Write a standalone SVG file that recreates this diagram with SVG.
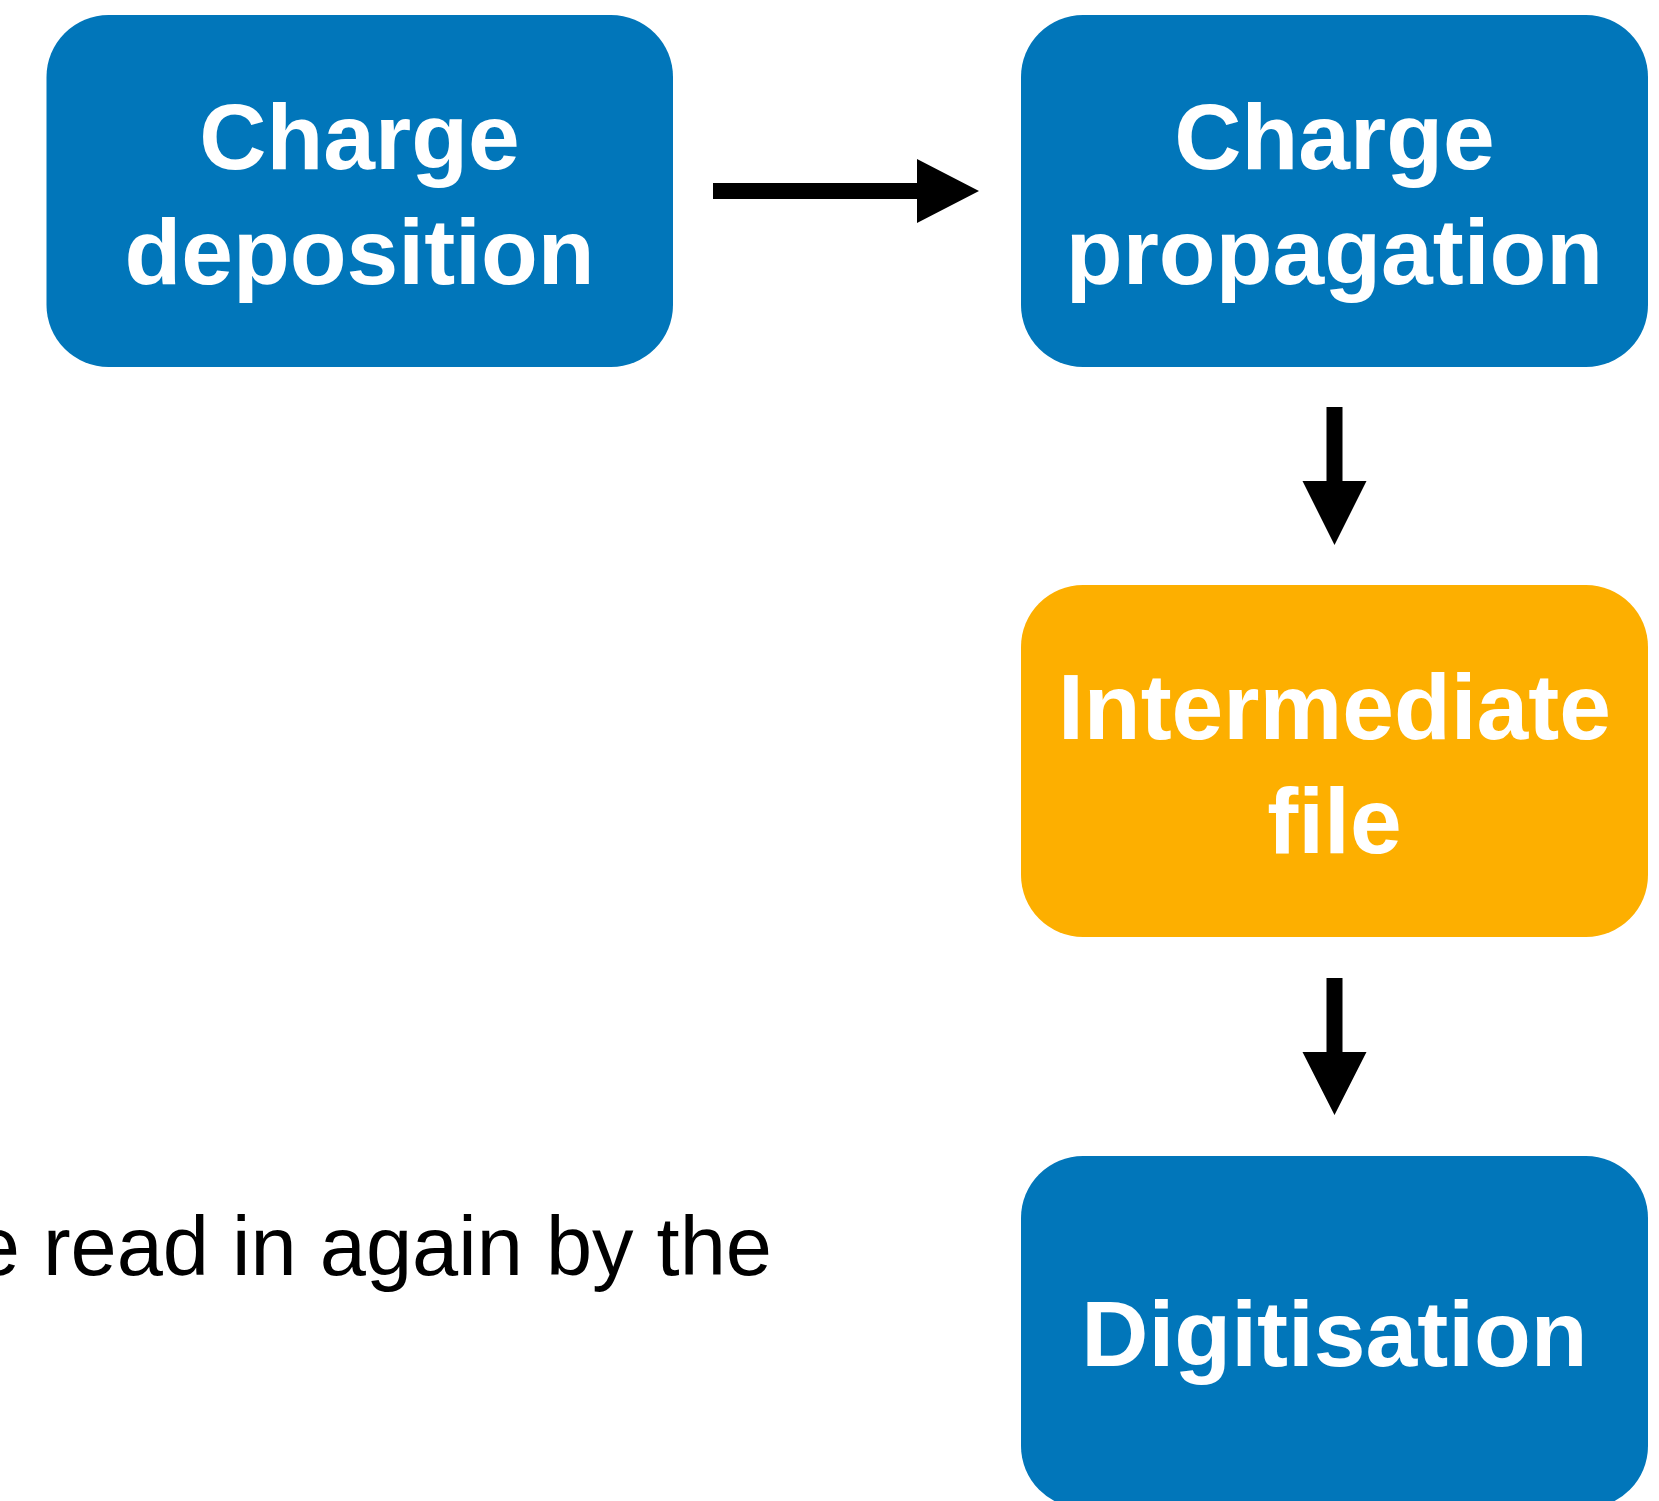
<svg xmlns="http://www.w3.org/2000/svg" width="1659" height="1501" viewBox="0 0 1659 1501">
<style>
.box{fill:#0176BA}
.file{fill:#FDAF00}
.lbl{font-family:"Liberation Sans",Arial,sans-serif;font-weight:bold;font-size:93px;fill:#fff;text-anchor:middle}
.conn{fill:#000}
.note{font-family:"Liberation Sans",Arial,sans-serif;font-size:83px;fill:#000;text-anchor:end}
</style>
<rect width="1659" height="1501" fill="#fff"/>
<g id="node-charge-deposition">
<rect class="box" x="46.5" y="15" width="626.5" height="352" rx="62"/>
<text class="lbl" x="359.5" y="169">Charge</text>
<text class="lbl" x="359.5" y="283.5">deposition</text>
</g>
<g id="node-charge-propagation">
<rect class="box" x="1021" y="15" width="627" height="352" rx="62"/>
<text class="lbl" x="1334.5" y="169">Charge</text>
<text class="lbl" x="1334.5" y="283.5">propagation</text>
</g>
<g id="node-intermediate-file">
<rect class="file" x="1021" y="585" width="627" height="352" rx="62"/>
<text class="lbl" x="1334.5" y="738.5">Intermediate</text>
<text class="lbl" x="1334.5" y="853">file</text>
</g>
<g id="node-digitisation">
<rect class="box" x="1021" y="1156" width="627" height="352" rx="62"/>
<text class="lbl" x="1334.5" y="1366">Digitisation</text>
</g>
<g id="connectors">
<polygon class="conn" points="713,183 917,183 917,159 979,191 917,223 917,199 713,199"/>
<polygon class="conn" points="1326.5,407 1342.5,407 1342.5,481 1366.5,481 1334.5,545 1302.5,481 1326.5,481"/>
<polygon class="conn" points="1326.5,978 1342.5,978 1342.5,1052 1366.5,1052 1334.5,1115 1302.5,1052 1326.5,1052"/>
</g>
<text class="note" x="772" y="1275">e read in again by the</text>
</svg>
